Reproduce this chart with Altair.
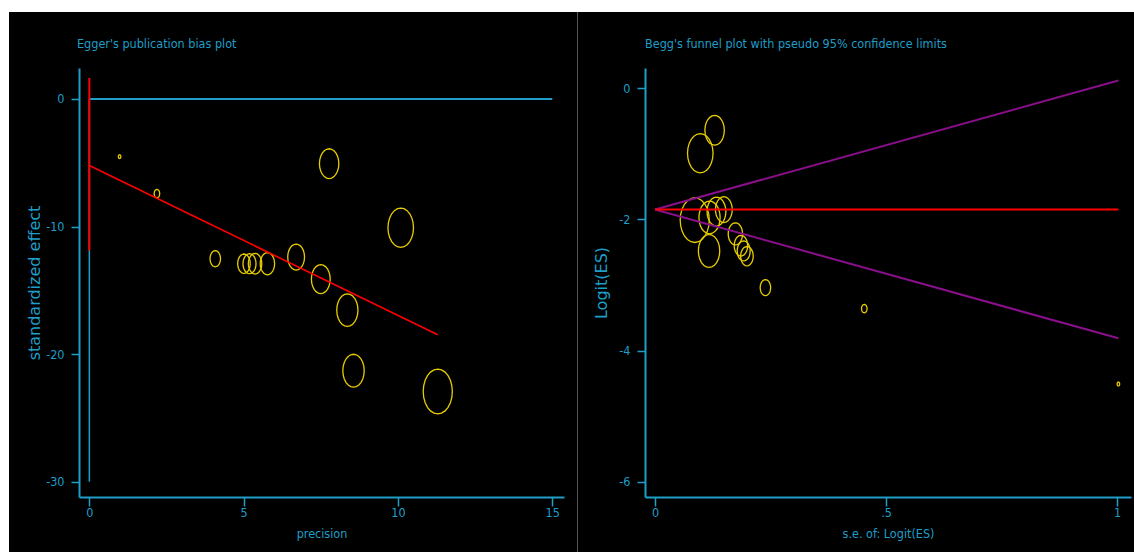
import math
import altair as alt
import pandas as pd

# ---- study data (14 studies) ----
# Egger panel: precision (1/se) and standardized effect (logit/se)
precision = [0.98, 2.19, 4.08, 5.01, 5.19, 5.37, 5.77, 6.70, 7.50, 7.77, 8.36, 8.56, 10.09, 11.29]
std_effect = [-4.52, -7.42, -12.52, -12.91, -12.91, -12.91, -12.91, -12.39, -14.12, -5.07, -16.55, -21.30, -10.09, -22.93]
# Begg panel: standard error and logit of the effect size
se_logit = [1.003, 0.453, 0.239, 0.199, 0.192, 0.186, 0.174, 0.149, 0.133, 0.129, 0.118, 0.117, 0.098, 0.086]
logit_es = [-4.51, -3.36, -3.04, -2.56, -2.48, -2.40, -2.22, -1.85, -1.88, -0.64, -1.97, -2.48, -0.99, -2.01]

# Egger regression (standardized effect on precision) and CI of the intercept
egger_intercept = -5.22
egger_slope = -1.174
egger_ci = [1.65, -11.89]
# pooled logit for the funnel
pooled_logit = -1.847

egger_xticks = [0, 5, 10, 15]
egger_yticks = [0, -10, -20, -30]
begg_xticks = [0, 0.5, 1]
begg_yticks = [0, -2, -4, -6]

TXT = "#1E9EC8"
YEL = "#E6CC00"
RED = "#FF0000"
PUR = "#8A0F8A"
NARROW = "DejaVu Sans Condensed, Liberation Sans, sans-serif"
WIDE = "DejaVu Sans, sans-serif"
FS = 12.5

W1, W2, H = 485, 486, 429

# hollow ellipse symbol in a unit box
pts = []
for k in range(24):
    a = 2 * math.pi * k / 24
    pts.append(f"{0.65 * math.sin(a):.3f},{-math.cos(a):.3f}")
ELLIPSE = "M" + "L".join(pts) + "Z"

weights = [1.0 / (s * s) for s in se_logit]
SIZE = alt.Scale(domain=[0, 130], range=[0, 1927])
one = pd.DataFrame({"k": [0]})

# plain hyphen-minus labels, ".5" style decimals
LABEL = "replace(toString(datum.value), /^0\\./, '.')"

X_AXIS = dict(zindex=1, tickSize=9, labelPadding=6, labelBaseline="middle", labelExpr=LABEL,
              titleFont=NARROW, titleFontSize=FS, titleY=36, titleBaseline="middle")
Y_AXIS = dict(zindex=1, tickSize=8, labelPadding=7, labelExpr=LABEL, titleFont=WIDE, titleFontSize=16,
              titleAngle=270, titleBaseline="middle", titleAlign="center", titleY=H / 2)


def xenc(domain, ticks, title):
    return alt.X("x:Q", scale=alt.Scale(domain=domain, nice=False, zero=False),
                 axis=alt.Axis(**X_AXIS, values=ticks, title=title))


def yenc(domain, ticks, title, tx):
    return alt.Y("y:Q", scale=alt.Scale(domain=domain, nice=False, zero=False),
                 axis=alt.Axis(**Y_AXIS, values=ticks, title=title, titleX=tx))


def background(x1, x2):
    return alt.Chart(one).mark_rect(color="black").encode(
        x=alt.value(x1), x2=alt.value(x2), y=alt.value(-56), y2=alt.value(485))


def heading(text, dx):
    return alt.Chart(one).mark_text(align="left", baseline="middle", font=NARROW,
                                    fontSize=FS, color=TXT).encode(
        x=alt.value(dx), y=alt.value(-24), text=alt.value(text))


# ---------------- Egger panel ----------------
ex = xenc([-0.335, 15.38], egger_xticks, "precision")
ey = yenc([-31.2, 2.43], egger_yticks, "standardized effect", -45)

zero_line = pd.DataFrame({"x": [egger_xticks[0], egger_xticks[-1]], "y": [0, 0]})
axis_line = pd.DataFrame({"x": [0], "y": [0], "y2": [egger_yticks[-1]]})
ci_line = pd.DataFrame({"x": [0], "y": [egger_ci[0]], "y2": [egger_ci[1]]})
fit_x = [0, max(precision)]
fit_line = pd.DataFrame({"x": fit_x, "y": [egger_intercept + egger_slope * v for v in fit_x]})
egger_pts = pd.DataFrame({"x": precision, "y": std_effect, "w": weights})

left = alt.layer(
    background(-70, 498),
    heading("Egger's publication bias plot", -2),
    alt.Chart(zero_line).mark_line(color=TXT, strokeWidth=2).encode(x=ex, y=ey),
    alt.Chart(axis_line).mark_rule(color=TXT, strokeWidth=1.5).encode(x=ex, y=ey, y2="y2:Q"),
    alt.Chart(egger_pts).mark_point(shape=ELLIPSE, filled=False, color=YEL, strokeWidth=1.3, opacity=1).encode(
        x=ex, y=ey, size=alt.Size("w:Q", scale=SIZE, legend=None)),
    alt.Chart(ci_line).mark_rule(color=RED, strokeWidth=2).encode(x=ex, y=ey, y2="y2:Q"),
    alt.Chart(fit_line).mark_line(color=RED, strokeWidth=1.6).encode(x=ex, y=ey),
    alt.Chart(one).mark_rule(color="#555555", strokeWidth=1).encode(
        x=alt.value(498.5), y=alt.value(-56), y2=alt.value(485)),
).properties(width=W1, height=H)

# ---------------- Begg panel ----------------
bx = xenc([-0.02165, 1.0303], begg_xticks, "s.e. of: Logit(ES)")
by = yenc([-6.233, 0.31], begg_yticks, "Logit(ES)", -44)

se_end = [0, max(se_logit)]
limits = pd.DataFrame({
    "x": se_end + se_end,
    "y": [pooled_logit + 1.96 * s for s in se_end] + [pooled_logit - 1.96 * s for s in se_end],
    "g": ["upper", "upper", "lower", "lower"],
})
pooled = pd.DataFrame({"x": se_end, "y": [pooled_logit, pooled_logit]})
begg_pts = pd.DataFrame({"x": se_logit, "y": logit_es, "w": weights})

right = alt.layer(
    background(-67, 489),
    heading("Begg's funnel plot with pseudo 95% confidence limits", 0),
    alt.Chart(begg_pts).mark_point(shape=ELLIPSE, filled=False, color=YEL, strokeWidth=1.3, opacity=1).encode(
        x=bx, y=by, size=alt.Size("w:Q", scale=SIZE, legend=None)),
    alt.Chart(limits).mark_line(color=PUR, strokeWidth=2).encode(x=bx, y=by, detail="g:N"),
    alt.Chart(pooled).mark_line(color=RED, strokeWidth=2).encode(x=bx, y=by),
).properties(width=W2, height=H)

chart = alt.hconcat(left, right, spacing=0).properties(
    padding={"left": 9, "top": 11, "right": 0, "bottom": 0},
    background="white",
).configure_view(stroke=None).configure_axis(
    grid=False, domainColor=TXT, domainWidth=2, tickColor=TXT, tickWidth=1.5,
    labelColor=TXT, labelFont=NARROW, labelFontSize=FS,
    titleColor=TXT, titleFontWeight="normal",
)

chart.save("out.html", embed_options={"renderer": "svg", "actions": False})
